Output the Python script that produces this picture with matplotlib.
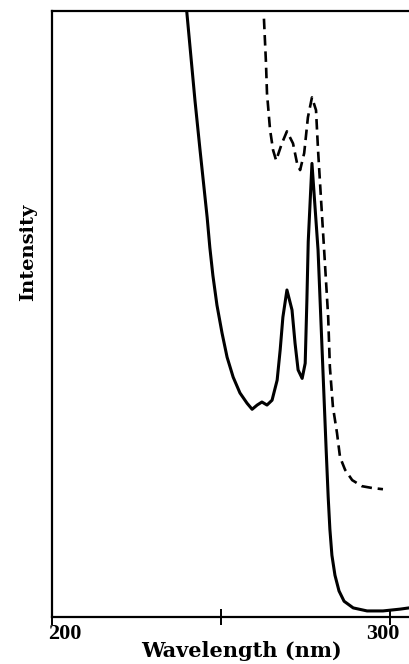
import matplotlib
matplotlib.use('Agg')
import matplotlib.pyplot as plt
import matplotlib.transforms as mtransforms

# solid trace (wavelength in nm, relative intensity)
solid_wl = [239.6, 239.9, 242.3, 243.8, 245.9, 246.7, 247.6, 248.8, 250.3, 251.8,
            253.6, 255.6, 257.7, 259.2, 260.7, 262.1, 263.6, 265.1, 266.6, 267.5,
            268.3, 269.5, 271.0, 271.9, 272.8, 274.0, 274.9, 275.4, 275.8,
            276.9, 278.7, 279.9, 281.1, 281.7, 282.2, 282.8, 283.7,
            284.9, 286.4, 289.1, 293.2, 297.9, 303.0, 305.6]
solid_int = [101.8, 99.8, 85.3, 77.1, 66.0, 61.0, 56.4, 51.5, 46.9, 42.9,
             39.6, 37.0, 35.3, 34.3, 35.0, 35.5, 35.0, 35.8, 39.1, 44.1,
             49.5, 54.0, 50.7, 45.2, 40.8, 39.4, 41.9, 52.3, 62.0,
             74.9, 60.6, 44.1, 27.6, 19.8, 14.5, 10.2, 6.9,
             4.3, 2.6, 1.5, 1.0, 1.0, 1.3, 1.5]

# dashed trace
dash_wl = [262.7, 263.3, 263.6, 264.5, 265.4, 266.3, 268.0, 269.5, 271.3, 272.5,
           273.4, 274.6, 275.7, 276.9, 278.1, 278.7, 279.6, 280.5, 281.7, 282.2,
           283.1, 284.3, 285.2, 286.7, 288.8, 291.7, 294.7, 297.9]
dash_int = [98.8, 91.5, 86.5, 80.5, 77.1, 75.4, 78.2, 80.2, 78.2, 74.9,
            73.8, 76.6, 82.5, 85.8, 83.7, 77.1, 68.8, 60.6, 49.5, 41.3,
            34.7, 30.4, 26.4, 24.3, 22.6, 21.6, 21.3, 21.1]

x_ticks = [200, 250, 300]
x_ticklabels = ['200', '', '300']

fig = plt.figure(figsize=(4.09, 6.64), dpi=100)
ax = fig.add_axes([0.127, 0.0708, 0.873, 0.912])

ax.plot(solid_wl, solid_int, color='black', lw=2.2,
        solid_joinstyle='round', solid_capstyle='round')
ax.plot(dash_wl, dash_int, color='black', lw=1.9, dashes=(4, 2.2),
        dash_joinstyle='round')

ax.set_xlim(200, 305.6)
ax.set_ylim(0, 100)

for s in ['left', 'top', 'bottom']:
    ax.spines[s].set_linewidth(1.6)
ax.spines['right'].set_visible(False)

ax.set_xticks(x_ticks)
ax.set_xticklabels(x_ticklabels, fontfamily='Liberation Serif',
                   fontweight='bold', fontsize=16)
ax.set_yticks([])
ax.tick_params(axis='x', direction='inout', length=12, width=1.4, pad=-1)

# the printed labels sit a little off their ticks
for lab, dx in zip(ax.get_xticklabels(), [13, 0, -7]):
    lab.set_transform(lab.get_transform() +
                      mtransforms.ScaledTranslation(dx / 100, 0, fig.dpi_scale_trans))

ax.set_xlabel('Wavelength (nm)', fontfamily='DejaVu Serif', fontweight='bold', fontsize=15)
ax.xaxis.set_label_coords(0.532, -0.04)
ax.set_ylabel('Intensity', fontfamily='DejaVu Serif', fontweight='bold', fontsize=14)
ax.yaxis.set_label_coords(-0.042, 0.602)

fig.savefig('out.png', dpi=100)
